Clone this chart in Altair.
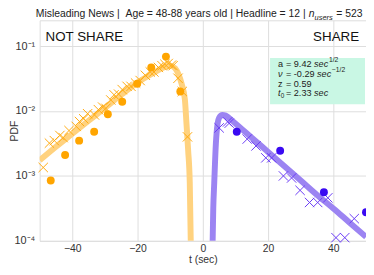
import altair as alt
import pandas as pd

# ---------------- data ----------------
ns_x_t = [-48.9, -47.0, -45.5, -43.8, -42.8, -41.0, -38.8, -37.8, -36.5, -35.3, -33.2, -32.0,
          -30.7, -29.7, -28.2, -27.2, -25.8, -24.7, -23.2, -22.0, -20.6, -19.2, -17.6, -16.1,
          -15.0, -13.6, -12.5, -11.6, -10.6, -9.6, -9.1, -7.6, -6.3, -4.7]
ns_x_pdf = [1.35e-3, 3.2e-3, 3.5e-3, 4.2e-3, 3.9e-3, 5.0e-3, 5.8e-3, 6.9e-3, 7.6e-3, 9.1e-3, 8.7e-3, 1.05e-2,
            1.15e-2, 1.1e-2, 1.48e-2, 1.78e-2, 1.82e-2, 2.14e-2, 2.4e-2, 2.4e-2, 2.7e-2, 2.95e-2, 3.55e-2, 4.0e-2,
            4.0e-2, 4.7e-2, 5.0e-2, 5.25e-2, 5.4e-2, 5.1e-2, 5.0e-2, 3.2e-2, 2.0e-2, 4.0e-3]

ns_o_t = [-46.6, -42.2, -37.9, -33.3, -29.1, -24.7, -20.1, -15.8, -11.3, -6.9]
ns_o_pdf = [8.5e-4, 2.1e-3, 3.5e-3, 4.8e-3, 8.9e-3, 1.39e-2, 2.64e-2, 4.7e-2, 6.9e-2, 2.0e-2]

ns_fit_t = [-50, -45, -40, -35, -30, -25, -20, -15, -12, -10, -8.5, -7.5, -6.5, -5.5, -5.0, -4.5, -4.0, -3.6]
ns_fit_pdf = [1.74e-3, 2.82e-3, 4.47e-3, 7.08e-3, 1.12e-2, 1.78e-2, 2.75e-2, 3.89e-2, 4.68e-2, 5.01e-2,
              4.57e-2, 3.72e-2, 2.63e-2, 1.51e-2, 6.3e-3, 2.5e-3, 7.9e-4, 5.0e-5]

sh_x_t = [5.0, 7.6, 8.1, 13.6, 16.3, 19.3, 21.1, 24.7, 27.2, 29.8, 32.7, 35.2, 38.3, 40.8, 43.5, 46.4]
sh_x_pdf = [5.5e-3, 6.8e-3, 6.5e-3, 3.7e-3, 2.9e-3, 1.9e-3, 1.9e-3, 1.0e-3, 9.3e-4, 6.0e-4, 3.9e-4, 3.9e-4,
            4.6e-4, 1.12e-4, 1.12e-4, 2.2e-4]

sh_o_t = [10.4, 23.7, 37.1, 50.0]
sh_o_pdf = [4.8e-3, 2.45e-3, 5.6e-4, 2.75e-4]

sh_fit_t = [2.9, 3.2, 3.5, 4.0, 4.5, 5.0, 6.0, 7.0, 9.0, 12, 15, 20, 25, 30, 35, 40, 45, 50]
sh_fit_pdf = [5.0e-5, 3.16e-4, 7.9e-4, 3.16e-3, 6.3e-3, 7.9e-3, 8.7e-3, 8.5e-3, 7.1e-3, 5.25e-3, 3.89e-3,
              2.34e-3, 1.41e-3, 8.5e-4, 5.1e-4, 3.16e-4, 1.9e-4, 1.15e-4]

x_ticks = [-40, -20, 0, 20, 40]
y_ticks = [1e-4, 1e-3, 1e-2, 1e-1]

# ---------------- chart ----------------
FONT = "Liberation Sans"
W, H = 330, 223
X_SHAPE = "M-1,-1L1,1M-1,1L1,-1"
NB = "\u00a0"

xs = alt.Scale(domain=[-50, 50], nice=False, zero=False)
ys = alt.Scale(type="log", domain=[1e-4, 0.25], nice=False)

x_axis = alt.Axis(values=x_ticks, title="t (sec)", labelExpr="replace(datum.label, '-', '\u2212')",
                  tickSize=0, labelPadding=3, titlePadding=0, domain=False,
                  labelFontSize=10.5, titleFontSize=10.5, titleFontWeight="normal",
                  labelColor="#333333", titleColor="#333333", labelFont=FONT, titleFont=FONT,
                  gridColor="#dedede")
y_axis = alt.Axis(values=y_ticks, title="PDF",
                  labelExpr="datum.value >= 0.09 ? '10\u207b\u00b9' : datum.value >= 0.009 ? '10\u207b\u00b2' : datum.value >= 0.0009 ? '10\u207b\u00b3' : '10\u207b\u2074'",
                  tickSize=0, labelPadding=5, domain=False,
                  labelFontSize=11, titleFontSize=10.5, titleFontWeight="normal",
                  labelColor="#333333", titleColor="#333333", labelFont=FONT, titleFont=FONT,
                  titleX=-20, titleY=H / 2, titleAngle=270, titleAlign="center", titleBaseline="bottom",
                  gridColor="#dedede")


def df(t, p):
    return pd.DataFrame({"t": t, "pdf": p})


base_enc = dict(x=alt.X("t:Q", scale=xs, axis=x_axis), y=alt.Y("pdf:Q", scale=ys, axis=y_axis))

ns_line = alt.Chart(df(ns_fit_t, ns_fit_pdf)).mark_line(
    color="#FFD27F", strokeWidth=6, clip=True, interpolate="monotone").encode(**base_enc)
sh_line = alt.Chart(df(sh_fit_t, sh_fit_pdf)).mark_line(
    color="#9C84F2", strokeWidth=6, clip=True, interpolate="monotone").encode(**base_enc)

ns_x = alt.Chart(df(ns_x_t, ns_x_pdf)).mark_point(
    shape=X_SHAPE, filled=False, size=90, strokeWidth=1, color="#FFAA10", opacity=1).encode(**base_enc)
sh_x = alt.Chart(df(sh_x_t, sh_x_pdf)).mark_point(
    shape=X_SHAPE, filled=False, size=90, strokeWidth=1, color="#6A3CF5", opacity=1).encode(**base_enc)
ns_o = alt.Chart(df(ns_o_t, ns_o_pdf)).mark_circle(
    size=64, color="#FFA500", opacity=1).encode(**base_enc)
sh_o = alt.Chart(df(sh_o_t, sh_o_pdf)).mark_circle(
    size=64, color="#3A0AF2", opacity=1, clip=True).encode(**base_enc)

one = pd.DataFrame({"k": [0]})


def txt(s, x, y, size=9.2, align="left", style="normal", color="#222222"):
    return alt.Chart(one).mark_text(text=s, align=align, baseline="alphabetic", fontSize=size,
                                    font=FONT, fontStyle=style, color=color).encode(
        x=alt.value(x), y=alt.value(y))


box = alt.Chart(one).mark_rect(color="#C9F7E4").encode(
    x=alt.value(233), x2=alt.value(329), y=alt.value(38), y2=alt.value(85))

texts = [
    # title
    txt("Misleading News |" + NB + NB + "Age = 48-88 years old | Headline = 12 |", 269, -3, size=10.5,
        align="right"),
    txt("n", 272, -3, size=10.5, style="italic"),
    txt("users", 278, -0.5, size=7.5, style="italic"),
    txt("= 523", 300, -3, size=10.5),
    # side labels
    txt("NOT SHARE", 6, 21, size=13.5, color="#111111"),
    txt("SHARE", 323, 21, size=13.5, align="right", color="#111111"),
    # parameter box
    txt("a", 241, 47), txt("=", 249, 47), txt("9.42", 257, 47),
    txt("sec", 277.5, 47, style="italic"),
    txt("1/2", 292.5, 42.5, size=6.8),
    txt("\u03bd", 241, 57, style="italic"), txt("=", 249, 57), txt("-0.29", 257, 57),
    txt("sec", 280.5, 57, style="italic"),
    txt("\u22121/2", 295.5, 52.5, size=6.8),
    txt("z", 241, 67), txt("=", 249, 67), txt("0.59", 257, 67),
    txt("t", 241, 77, style="italic"),
    txt("0", 243.8, 79, size=6.5),
    txt("=", 249, 77), txt("2.33", 257, 77),
    txt("sec", 277.5, 77, style="italic"),
]

chart = alt.layer(ns_line, sh_line, ns_x, sh_x, ns_o, sh_o, box, *texts).properties(
    width=W, height=H,
    autosize=alt.AutoSizeParams(type="none"),
    padding={"left": 32, "top": 11, "right": 0, "bottom": 24},
).configure_view(stroke="#cccccc", strokeWidth=1).configure(background="white")

chart.save("out.html", embed_options={"renderer": "svg", "actions": False})
